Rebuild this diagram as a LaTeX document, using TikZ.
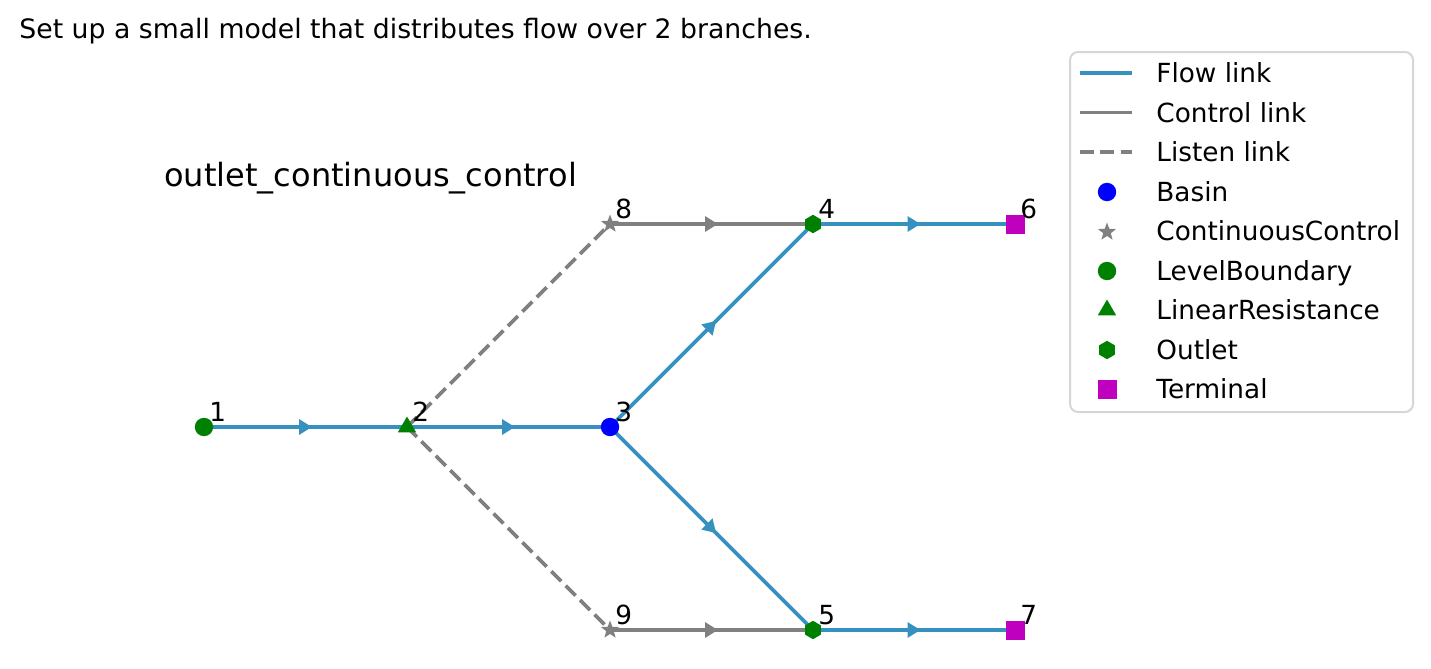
\documentclass[tikz,border=0pt]{standalone}
\usepackage{fontspec}
\setmainfont{DejaVu Sans}
\usetikzlibrary{shapes.geometric,arrows.meta,decorations.markings,backgrounds}

\definecolor{flowblue}{RGB}{54,144,192}
\definecolor{ctrlgray}{RGB}{128,128,128}
\definecolor{lvlgreen}{RGB}{0,128,0}
\definecolor{termmag}{RGB}{191,0,191}
\definecolor{legframe}{RGB}{214,214,214}

\tikzset{
  midarrow/.style={postaction={decorate},
    decoration={markings, mark=at position .5 with
      {\arrow[xshift=3.25pt]{Triangle[length=6.5pt,width=7.5pt]}}}},
  flowline/.style={color=flowblue, line width=1.9pt},
  ctrlline/.style={color=ctrlgray, line width=1.9pt},
  listenline/.style={color=ctrlgray, line width=1.9pt, dash pattern=on 7pt off 3.2pt},
  flow/.style={flowline, midarrow},
  control/.style={ctrlline, midarrow},
  basin/.style={circle, fill=blue, inner sep=0pt, minimum size=9.2pt},
  levelbnd/.style={circle, fill=lvlgreen, inner sep=0pt, minimum size=9.2pt},
  linres/.style={regular polygon, regular polygon sides=3, fill=lvlgreen,
    inner sep=0pt, minimum size=10.5pt},
  outlet/.style={regular polygon, regular polygon sides=6, shape border rotate=30,
    fill=lvlgreen, inner sep=0pt, minimum size=9.2pt},
  terminal/.style={rectangle, fill=termmag, inner sep=0pt, minimum size=9.5pt},
  contctrl/.style={star, star points=5, star point ratio=2.4, fill=ctrlgray,
    inner sep=0pt, minimum size=9.5pt},
  txt/.style={anchor=base west, inner sep=0pt, font=\fontsize{13.15}{15}\selectfont},
}

\begin{document}
\begin{tikzpicture}[x=0.5pt,y=-0.5pt]
  \useasboundingbox (0,0) rectangle (1431,669);

  \node at (19,39) [txt, font=\fontsize{13.35}{15}\selectfont] (head) {Set up a small model that distributes flow over 2 branches.};
  \node at (164,186) [txt, font=\fontsize{16}{18}\selectfont] (title) {outlet\_continuous\_control};

  % model nodes
  \node at (204,427) [levelbnd] (n1) {};
  \node at (407,427) [linres] (n2) {};
  \node at (610,427) [basin] (n3) {};
  \node at (813,224) [outlet] (n4) {};
  \node at (813,630) [outlet] (n5) {};
  \node at (1015,224) [terminal] (n6) {};
  \node at (1015,630) [terminal] (n7) {};
  \node at (610,224) [contctrl] (n8) {};
  \node at (610,630) [contctrl] (n9) {};

  % node ids
  \foreach \i in {1,...,9}
    \node at ([shift={(5,-6)}]n\i.center) [txt] (id\i) {\i};

  \begin{pgfonlayer}{background}
    \draw [flow] (n1.center) -- (n2.center);
    \draw [flow] (n2.center) -- (n3.center);
    \draw [flow] (n3.center) -- (n4.center);
    \draw [flow] (n3.center) -- (n5.center);
    \draw [flow] (n4.center) -- (n6.center);
    \draw [flow] (n5.center) -- (n7.center);
    \draw [control] (n8.center) -- (n4.center);
    \draw [control] (n9.center) -- (n5.center);
    \draw [listenline] (n2.center) -- (n8.center);
    \draw [listenline] (n2.center) -- (n9.center);
  \end{pgfonlayer}

  % legend
  \draw [legframe, line width=1pt, rounded corners=4pt, fill=white]
    (1070,52) rectangle (1413,412);
  \draw [flowline] (1080,73) -- (1132,73);
  \draw [ctrlline] (1080,112.5) -- (1132,112.5);
  \draw [listenline] (1080,152) -- (1132,152);
  \node at (1107,192) [basin] (lgbasin) {};
  \node at (1107,232) [contctrl] (lgctrl) {};
  \node at (1107,271) [levelbnd] (lglevel) {};
  \node at (1107,310) [linres] (lgres) {};
  \node at (1107,350) [outlet] (lgoutlet) {};
  \node at (1107,389) [terminal] (lgterm) {};
  \node at (1156,82.5) [txt] {Flow link};
  \node at (1156,122) [txt] {Control link};
  \node at (1156,161.5) [txt] {Listen link};
  \node at (1156,201) [txt] {Basin};
  \node at (1156,240.5) [txt] {ContinuousControl};
  \node at (1156,280) [txt] {LevelBoundary};
  \node at (1156,319.5) [txt] {LinearResistance};
  \node at (1156,359) [txt] {Outlet};
  \node at (1156,398.5) [txt] {Terminal};
\end{tikzpicture}
\end{document}
